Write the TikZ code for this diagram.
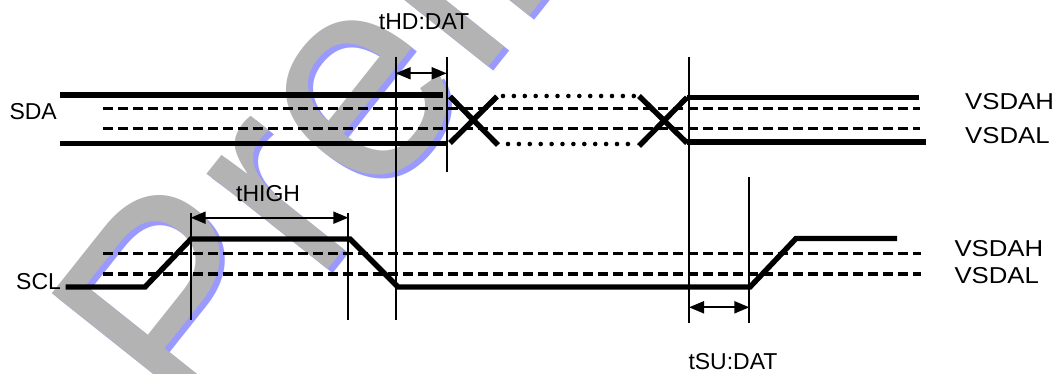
\documentclass[tikz,border=0pt]{standalone}
\usepackage{fontspec}
\setmainfont{Liberation Sans}
\usetikzlibrary{arrows.meta}
\definecolor{wmgray}{HTML}{B3B3B3}
\definecolor{wmblue}{HTML}{9999FF}
\begin{document}
\begin{tikzpicture}[x=1pt,y=-1pt,
  sig/.style={line width=5.4pt, line join=miter},
  thr/.style={line width=3.3pt, dash pattern=on 9.5pt off 5.5pt},
  dotline/.style={line width=4.6pt, line cap=round, dash pattern=on 0pt off 10.9pt},
  tick/.style={line width=2.2pt},
  dim/.style={line width=2pt, {Triangle[length=15pt,width=12pt]}-{Triangle[length=15pt,width=12pt]}},
  lbl/.style={inner sep=0pt, anchor=base west, font=\fontsize{23pt}{27pt}\selectfont},
  wm/.style={inner sep=0pt, anchor=base west, rotate=51.5, font=\fontsize{292pt}{292pt}\selectfont}
]
\useasboundingbox (0,0) rectangle (1060,374);
\fill[white] (0,0) rectangle (1060,374);
% watermark
\begin{scope}
  \clip (0,0) rectangle (1060,374);
  \node[wm, text=wmblue] (wmshadow) at (199,442) {Preli};
  \node[wm, text=wmgray] (wmtext) at (194,438) {Preli};
\end{scope}
% threshold dashed lines
\draw[thr] (103,108.3) -- (920,108.3);
\draw[thr] (103,128.3) -- (920,128.3);
\draw[thr] (103,253.3) -- (921,253.3);
\draw[thr] (103,274) -- (921,274);
% SDA
\draw[sig] (60,95) -- (443,95);
\draw[sig] (60,143.5) -- (447,143.5);
\draw[sig] (450,96.5) -- (498,145);
\draw[sig] (450,143) -- (497,96.5);
\draw[dotline] (503,96) -- (634,96);
\draw[dotline] (508,144) -- (630,144);
\draw[sig] (639,96) -- (687,143);
\draw[sig] (639,146) -- (687,97.5);
\draw[sig] (687,97.5) -- (919,97.5);
\draw[sig] (687,142) -- (926,142);
% SCL
\draw[sig] (65.7,287) -- (145,287) -- (191,239) -- (350,239) -- (398,287) -- (750,287) -- (796,238.5) -- (897,238.5);
% timing ticks
\coordinate (v1t) at (190.7,213); \coordinate (v1b) at (190.7,320);
\coordinate (v2t) at (348.3,213); \coordinate (v2b) at (348.3,320);
\coordinate (v3t) at (395.7,57);  \coordinate (v3b) at (395.7,320);
\coordinate (v4t) at (446.7,57);  \coordinate (v4b) at (446.7,172);
\coordinate (v5t) at (689,57);    \coordinate (v5b) at (689,323);
\coordinate (v6t) at (749.3,177); \coordinate (v6b) at (749.3,323);
\draw[tick] (v1t) -- (v1b);
\draw[tick] (v2t) -- (v2b);
\draw[tick] (v3t) -- (v3b);
\draw[tick] (v4t) -- (v4b);
\draw[tick] (v5t) -- (v5b);
\draw[tick] (v6t) -- (v6b);
% dimension arrows
\coordinate (hdl) at (395.7,73.3);  \coordinate (hdr) at (446.7,73.3);
\coordinate (hil) at (190.7,217.7); \coordinate (hir) at (348.3,217.7);
\coordinate (sul) at (689,307.3);   \coordinate (sur) at (749.3,307.3);
\draw[dim] (hdl) -- (hdr);
\draw[dim] (hil) -- (hir);
\draw[dim] (sul) -- (sur);
% labels
\node[lbl] (thd) at (378.7,30) {tHD:DAT};
\node[lbl] (thigh) at (236,201.7) {tHIGH};
\node[lbl] (tsu) at (688.3,369.3) {tSU:DAT};
\node[lbl] (sda) at (9.3,119.3) {SDA};
\node[lbl] (scl) at (16,289) {SCL};
\node[lbl] (vah1) at (965,110) {\scalebox{1.12}[1]{VSDAH}};
\node[lbl] (val1) at (965,144) {\scalebox{1.12}[1]{VSDAL}};
\node[lbl] (vah2) at (954.3,256) {\scalebox{1.12}[1]{VSDAH}};
\node[lbl] (val2) at (954.3,283.3) {\scalebox{1.12}[1]{VSDAL}};
\end{tikzpicture}
\end{document}
